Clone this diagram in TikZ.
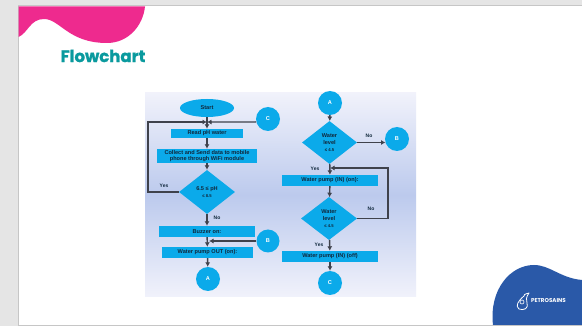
\documentclass[tikz,border=0pt]{standalone}
\usepackage{fontspec}
\setmainfont{Liberation Sans}
\newfontfamily\titlefont[BoldFeatures={FakeBold=1.2}]{Poppins}
\newfontfamily\logofont{Poppins}
\usetikzlibrary{shapes.geometric,arrows.meta}
\definecolor{cyanfill}{HTML}{0BAAEA}
\definecolor{linegray}{HTML}{3F424C}
\definecolor{pinkblob}{HTML}{EE2A8E}
\definecolor{blueblob}{HTML}{2A59A8}
\definecolor{titleteal}{HTML}{0A9A9E}
\definecolor{panelend}{HTML}{F1F2FB}
\definecolor{panelmid}{HTML}{BCCAED}
\definecolor{inktext}{HTML}{10283C}
\tikzset{
  nodetext/.style={font=\fontsize{5.6}{6.6}\selectfont\bfseries,text=inktext,align=center,inner sep=0pt},
  procbox/.style={nodetext,rectangle,fill=cyanfill,minimum height=#1},
  procbox/.default=11pt,
  term/.style={nodetext,ellipse,fill=cyanfill,minimum width=54pt,minimum height=18pt},
  conn/.style={nodetext,circle,fill=cyanfill,minimum size=24pt,text=white},
  decide/.style={nodetext,diamond,fill=cyanfill,minimum width=56pt,minimum height=43pt},
  flow/.style={draw=linegray,line width=1.4pt,-{Latex[length=4.5pt,width=5pt]}},
  edgelabel/.style={nodetext,font=\fontsize{5}{6}\selectfont\bfseries}
}
\newcommand{\smallrange}[1]{{\fontsize{4.2}{5}\selectfont #1}}
\begin{document}
\begin{tikzpicture}[x=1pt,y=-1pt]
\useasboundingbox (0,0) rectangle (582,326);
\fill[gray!20] (0,0) rectangle (582,326);
\fill[gray!45] (17.5,5.5) rectangle (582,326);
\fill[white] (18.5,6.5) rectangle (582,325);
% corner shapes
\fill[pinkblob] (18.5,6.5) -- (18.5,37) .. controls (28,33) and (30,19) .. (44,19)
  .. controls (60,19) and (68,43) .. (107,43) .. controls (128,43) and (143,26) .. (145,6.5) -- cycle;
\fill[blueblob] (493,325) .. controls (489,290) and (510,265) .. (534,265)
  .. controls (550,265) and (560,278) .. (582,280) -- (582,325) -- cycle;
\node[font=\titlefont\bfseries\fontsize{16.5}{18}\selectfont,text=titleteal,inner sep=0pt] (title) at (103,56) {Flowchart};
% logo
\draw[white,line width=0.8pt,line join=round] (524,296) .. controls (518,301) and (515,306) .. (519,309)
  .. controls (524,311) and (529,308) .. (527,303) .. controls (526,300) and (526,297) .. (529,293)
  .. controls (525,294) and (523,295) .. (524,296) -- cycle;
\draw[white,line width=0.6pt] (522,302) circle (2pt);
\node[font=\logofont\bfseries\fontsize{5.6}{6}\selectfont,text=white,inner sep=0pt] (logotext) at (548.5,301) {PETROSAINS};
% panel
\shade[top color=panelend,bottom color=panelend,middle color=panelmid] (145,93) rectangle (416,297);
% left column
\node[term] (start) at (207,108) {Start};
\node[conn] (cl) at (268,119) {C};
\coordinate (joinl) at (207,122);
\node[procbox=9pt,minimum width=72pt] (read) at (207,133.5) {Read pH water};
\node[procbox=14pt,minimum width=100pt] (send) at (207,156) {Collect and Send data to mobile\\phone through WiFi module};
\node[decide,minimum height=44pt] (phd) at (207,192) {6.5 ≤ pH\\\smallrange{≤ 8.5}};
\node[procbox,minimum width=96pt] (buzz) at (207,231.5) {Buzzer on:};
\node[procbox,minimum width=91pt] (pout) at (207.5,252.5) {Water pump OUT (on):};
\node[conn,minimum size=23pt] (bl) at (268,241) {B};
\node[conn] (al) at (208,279) {A};
\coordinate (joinb) at (209,241);
\coordinate (loopl) at (148,192);
\coordinate (loopu) at (148,122);
\draw[flow] (start) -- (read);
\draw[flow] (cl.194.5) -- (joinl);
\draw[flow] (phd.west) -- (loopl) -- (loopu) -- (joinl);
\draw[flow] (read) -- (send);
\draw[flow] (send) -- (phd);
\draw[flow] (phd) -- (buzz);
\draw[flow] (buzz) -- (pout);
\draw[flow] (bl) -- (joinb);
\draw[flow] (pout) -- (al);
\node[edgelabel] (yl) at (164,186) {Yes};
\node[edgelabel] (nl) at (217,218) {No};
% right column
\node[conn] (ar) at (330,103) {A};
\node[decide,minimum width=55pt] (w1) at (329.5,142.5) {Water\\level\\\smallrange{≤ 4.5}};
\node[conn] (br) at (397,139) {B};
\coordinate (arrowb) at (385.5,142.5);
\coordinate (joinr) at (330,168);
\node[procbox,minimum width=96pt] (pin) at (330,180.5) {Water pump (IN) (on):};
\node[decide] (w2) at (329,218.5) {Water\\level\\\smallrange{≤ 4.5}};
\node[procbox,minimum width=96pt] (poff) at (330,256.5) {Water pump (IN) (off)};
\node[conn] (cr) at (330,283) {C};
\coordinate (loopr) at (388,218.5);
\coordinate (loopt) at (388,168);
\draw[flow] (ar) -- (w1);
\draw[flow] (w1.east) -- (arrowb);
\draw[flow] (w1) -- (pin);
\draw[flow] (pin) -- (w2);
\draw[flow] (w2.east) -- (loopr) -- (loopt) -- (joinr);
\draw[flow] (w2) -- (poff);
\draw[flow] (poff) -- (cr);
\node[edgelabel] (yr1) at (315,169) {Yes};
\node[edgelabel] (nr1) at (369,136) {No};
\node[edgelabel] (nr2) at (371,209) {No};
\node[edgelabel] (yr2) at (319,245) {Yes};
\end{tikzpicture}
\end{document}
